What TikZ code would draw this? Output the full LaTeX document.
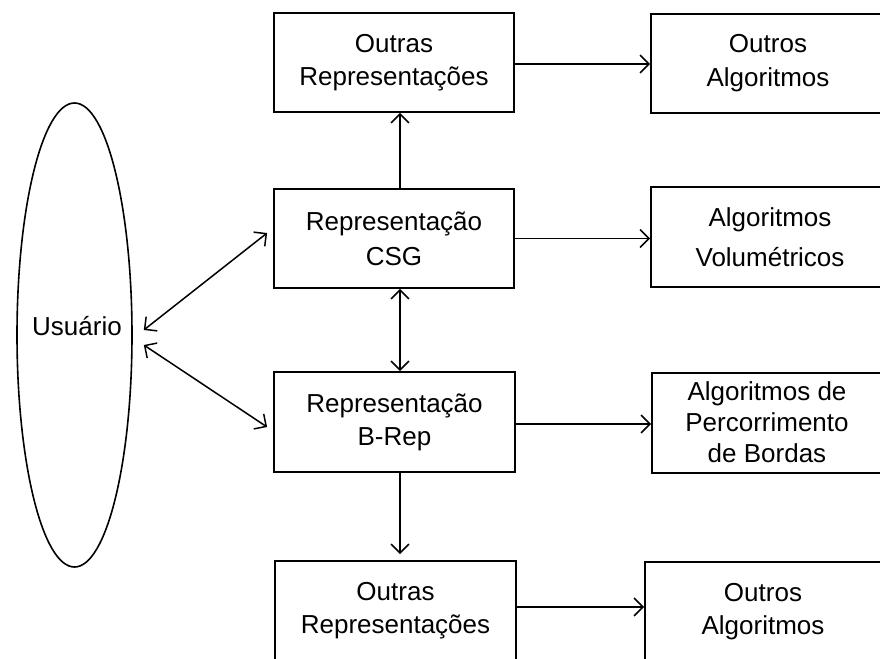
\documentclass[tikz,border=0pt]{standalone}
\usepackage{fontspec}
\setmainfont{Liberation Sans}
\usetikzlibrary{shapes.geometric,arrows.meta,calc}

\tikzset{
  box/.style={draw, line width=1.8pt, inner sep=0pt, align=center,
    minimum width=240pt, minimum height=99pt},
  link/.style={line width=1.5pt},
  >={Straight Barb[length=9pt,width=18pt]},
  txt/.style={font=\fontsize{26}{#1}\selectfont},
  caption/.style={inner sep=0pt, align=center, txt=#1},
}

\begin{document}
\begin{tikzpicture}[x=1pt,y=-1pt]
  \useasboundingbox (0,0) rectangle (880,658);
  \clip (0,0) rectangle (880,658);
  \fill[white] (0,0) rectangle (880,658);

  % user
  \node[ellipse, draw, line width=1.6pt, inner sep=0pt, minimum width=115pt,
        minimum height=464pt] (user) at (74.5,335) {};
  \node[anchor=base, inner sep=0pt, txt=30] (usertext) at (77,335) {Usu\'ario};

  % representations (middle column)
  \node[box, txt=33] (outrasA) at (394,62.5) {Outras\\Representa\c{c}\~oes};
  \node[box, txt=35] (csg) at (394,238.5) {Representa\c{c}\~ao\\CSG};
  \node[box, txt=33, minimum width=241pt, minimum height=100pt] (brep) at (394.5,422) {Representa\c{c}\~ao\\B-Rep};
  \node[box, txt=33, minimum width=241pt] (outrasB) at (395.5,610.5) {Outras\\Representa\c{c}\~oes};

  % algorithms (right column, running off the right margin)
  \node[box, minimum width=280pt] (algA) at (791,63.5) {};
  \node[caption=34] (algAtext) at (768,63.5) {Outros\\Algoritmos};
  \node[box, minimum width=280pt, minimum height=100pt] (vol) at (791,237) {};
  \node[caption=40] (voltext) at (770,237.5) {Algoritmos\\Volum\'etricos};
  \node[box, minimum width=280pt, minimum height=100pt] (perc) at (792,423) {};
  \node[caption=31] (perctext) at (767,422) {Algoritmos de\\Percorrimento\\de Bordas};
  \node[box, minimum width=280pt] (algB) at (785,611.5) {};
  \node[caption=33] (algBtext) at (763,611.5) {Outros\\Algoritmos};

  % user <-> representations
  \draw[link, <->] ($(user.east)+(11,-5)$) -- ($(csg.west)+(-6,-5.5)$);
  \draw[link, <->] ($(user.east)+(11,10)$) -- ($(brep.west)+(-6,5)$);

  % vertical links
  \draw[link, ->] ([xshift=6pt]csg.north) -- ([xshift=6pt]csg.north |- outrasA.south);
  \draw[link, <->] ([xshift=6pt]csg.south) -- ([xshift=6pt]csg.south |- brep.north);
  \draw[link, ->, shorten >=6pt] ([xshift=5.5pt]brep.south) -- ([xshift=5.5pt]brep.south |- outrasB.north);

  % horizontal links
  \draw[link, ->] ([yshift=-1.5pt]outrasA.east) -- ([yshift=-1.5pt]outrasA.east -| algA.west);
  \draw[link, ->] (csg.east) -- (csg.east -| vol.west);
  \draw[link, ->] ([yshift=-2pt]brep.east) -- ([yshift=-2pt]brep.east -| perc.west);
  \draw[link, ->] ([yshift=3.5pt]outrasB.east) -- ([yshift=3.5pt]outrasB.east -| algB.west);
\end{tikzpicture}
\end{document}
